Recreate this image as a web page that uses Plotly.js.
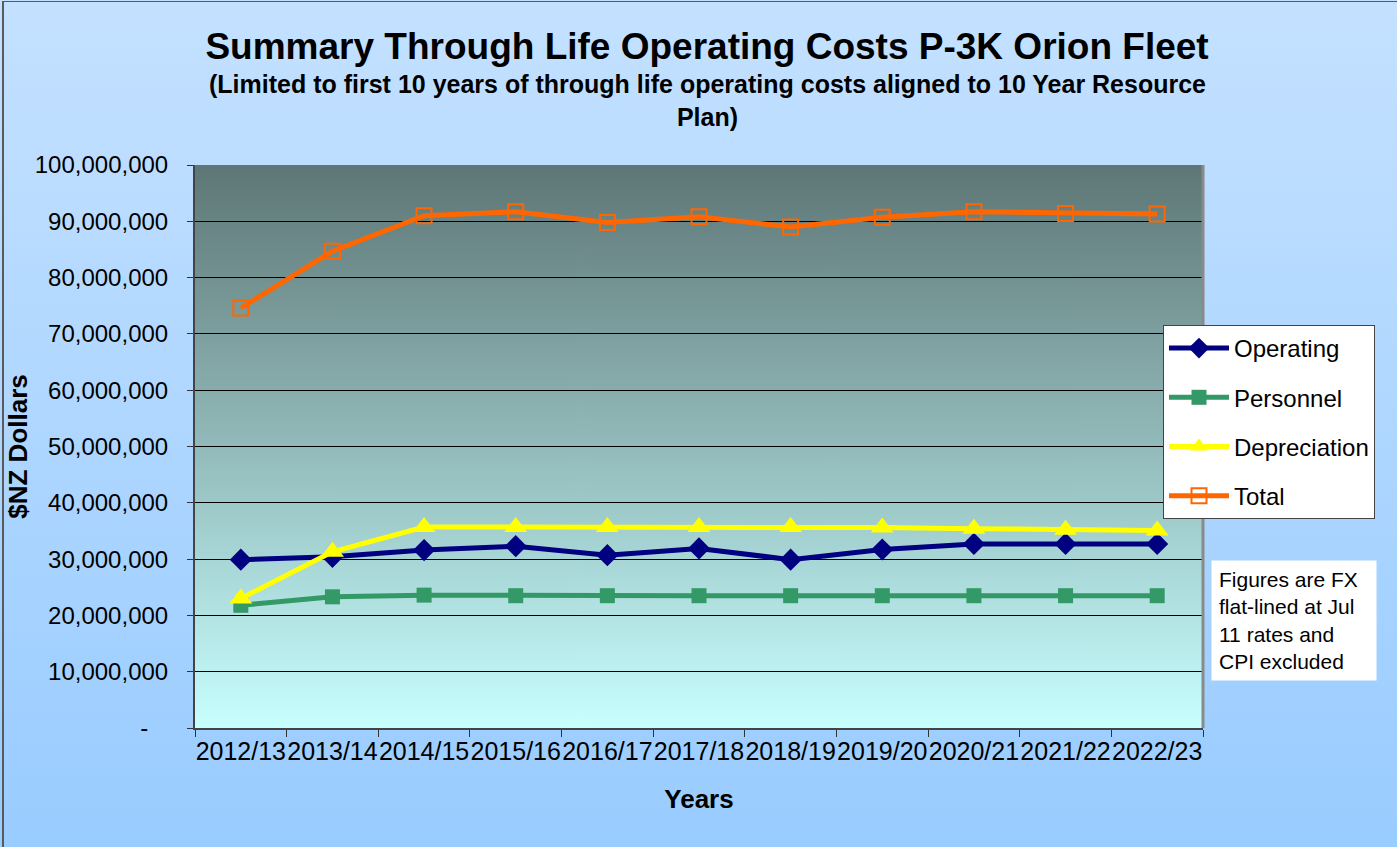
<!DOCTYPE html>
<html>
<head>
<meta charset="utf-8">
<script src="https://cdn.plot.ly/plotly-3.0.1.min.js"></script>
<style>
  html, body { margin: 0; padding: 0; }
  body { width: 1397px; height: 847px; overflow: hidden;
         background: linear-gradient(to bottom, #c4e1ff 0%, #99ccff 100%); }
  #frame { position: absolute; left: 2px; top: 1px; width: 1400px; height: 900px;
           border-left: 2px solid #5a5a5a; border-top: 1px solid #5a5a5a; pointer-events: none; }
  #chart { position: absolute; left: 0; top: 0; width: 1397px; height: 847px; }
</style>
</head>
<body>
<div id="chart"></div>
<div id="frame"></div>
<script>
// ---- data ----
const years = ["2012/13","2013/14","2014/15","2015/16","2016/17","2017/18","2018/19","2019/20","2020/21","2021/22","2022/23"];
const operating    = [29.9e6, 30.4e6, 31.6e6, 32.3e6, 30.7e6, 31.9e6, 29.9e6, 31.7e6, 32.7e6, 32.7e6, 32.7e6];
const personnel    = [21.8e6, 23.3e6, 23.6e6, 23.5e6, 23.5e6, 23.5e6, 23.5e6, 23.5e6, 23.5e6, 23.5e6, 23.5e6];
const depreciation = [23.0e6, 31.3e6, 35.7e6, 35.7e6, 35.7e6, 35.7e6, 35.7e6, 35.6e6, 35.4e6, 35.2e6, 35.1e6];
const total        = [74.6e6, 84.7e6, 91.0e6, 91.7e6, 89.8e6, 90.8e6, 89.0e6, 90.7e6, 91.7e6, 91.4e6, 91.3e6];
const yTickVals  = [0, 10e6, 20e6, 30e6, 40e6, 50e6, 60e6, 70e6, 80e6, 90e6, 100e6];
const yTickText  = ["-\u00a0\u00a0\u00a0", "10,000,000", "20,000,000", "30,000,000", "40,000,000", "50,000,000",
                    "60,000,000", "70,000,000", "80,000,000", "90,000,000", "100,000,000"];
const titleText    = "Summary Through Life Operating Costs P-3K Orion Fleet";
const subtitleText = "(Limited to first 10 years of through life operating costs aligned to 10 Year Resource<br>Plan)";
const noteText     = "Figures are FX<br>flat-lined at Jul<br>11 rates and<br>CPI excluded";

const FONT = "Arial, 'Liberation Sans', sans-serif";

// vertical gradient for the plot area
function gradientURL() {
  const c = document.createElement('canvas');
  c.width = 4; c.height = 512;
  const g = c.getContext('2d');
  const grd = g.createLinearGradient(0, 0, 0, 512);
  grd.addColorStop(0, 'rgb(94,118,118)');
  grd.addColorStop(1, 'rgb(200,255,255)');
  g.fillStyle = grd; g.fillRect(0, 0, 4, 512);
  return c.toDataURL('image/png');
}

const traces = [
  { name: "Operating", x: years, y: operating, type: "scatter", mode: "lines+markers",
    legendgroup: "a",
    line: { color: "#000080", width: 5 }, marker: { symbol: "diamond", size: 17, color: "#000080" } },
  { name: "Personnel", x: years, y: personnel, type: "scatter", mode: "lines+markers",
    legendgroup: "b",
    line: { color: "#339966", width: 5 }, marker: { symbol: "square", size: 15, color: "#339966" } },
  { name: "Depreciation", x: years, y: depreciation, type: "scatter", mode: "lines+markers",
    legendgroup: "c",
    line: { color: "#ffff00", width: 5 }, marker: { symbol: "triangle-up", size: 20, color: "#ffff00" } },
  { name: "Total", x: years, y: total, type: "scatter", mode: "lines+markers",
    legendgroup: "d",
    line: { color: "#ff6600", width: 5 },
    marker: { symbol: "square-open", size: 15, color: "#ff6600", line: { width: 2, color: "#ff6600" } } }
];

const W = 1397, H = 847;
const L = 195, R = 1203, T = 165, B = 728;

const layout = {
  width: W, height: H,
  paper_bgcolor: "rgba(0,0,0,0)",
  plot_bgcolor: "rgba(0,0,0,0)",
  margin: { l: L, r: W - R, t: T, b: H - B, pad: 0 },
  font: { family: FONT, color: "#000" },
  title: {
    text: "<b>" + titleText + "</b>",
    font: { family: FONT, size: 37, color: "#000" },
    x: 0.508, xanchor: "center", xref: "paper",
    y: 1 - 33 / H, yanchor: "top", yref: "container"
  },
  xaxis: {
    type: "category",
    range: [-0.5, 10.5],
    tickangle: 0,
    tickfont: { family: FONT, size: 25, color: "#000" },
    ticks: "outside", ticklen: 7, tickcolor: "#333", tickwidth: 1,
    tickson: "boundaries",
    showgrid: false,
    showline: true, linecolor: "#444", linewidth: 2, mirror: false,
    title: { text: "<b>Years</b>", font: { family: FONT, size: 26, color: "#000" }, standoff: 26 }
  },
  yaxis: {
    range: [0, 100e6],
    tickvals: yTickVals, ticktext: yTickText,
    tickfont: { family: FONT, size: 24, color: "#000" },
    ticks: "outside", ticklen: 6, tickcolor: "#333", tickwidth: 1,
    ticklabelstandoff: 14,
    showgrid: true, gridcolor: "#000", gridwidth: 1,
    zeroline: false,
    showline: true, linecolor: "#444", linewidth: 2,
    title: { text: "<b>$NZ Dollars</b>", font: { family: FONT, size: 26, color: "#000" }, standoff: 0 }
  },
  legend: {
    x: (1163 - L) / (R - L), xanchor: "left",
    y: (B - 325) / (B - T), yanchor: "top",
    bgcolor: "#ffffff", bordercolor: "#444", borderwidth: 1,
    font: { family: FONT, size: 24, color: "#000" },
    tracegroupgap: 15,
    itemwidth: 60
  },
  shapes: [
    { type: "line", xref: "paper", yref: "paper", x0: 1, x1: 1, y0: 0, y1: 1,
      line: { color: "#8a8a8a", width: 3 } }
  ],
  annotations: [
    { xref: "paper", yref: "paper",
      x: (707.5 - L) / (R - L), xanchor: "center",
      y: (B - 100.5) / (B - T), yanchor: "middle",
      text: "<b>" + subtitleText + "</b>",
      align: "center", showarrow: false,
      font: { family: FONT, size: 25, color: "#000" } },
    { xref: "paper", yref: "paper",
      x: (1211 - L) / (R - L), xanchor: "left",
      y: (B - 560) / (B - T), yanchor: "top",
      text: noteText,
      align: "left", showarrow: false, width: 150,
      font: { family: FONT, size: 21, color: "#000" },
      bgcolor: "#ffffff", borderpad: 7 }
  ],
  images: [
    { source: gradientURL(), xref: "paper", yref: "paper", x: 0, y: 1, sizex: 1, sizey: 1,
      xanchor: "left", yanchor: "top", sizing: "stretch", layer: "below", opacity: 1 }
  ],
  showlegend: true
};

Plotly.newPlot("chart", traces, layout, { displayModeBar: false, staticPlot: true });
</script>
</body>
</html>
